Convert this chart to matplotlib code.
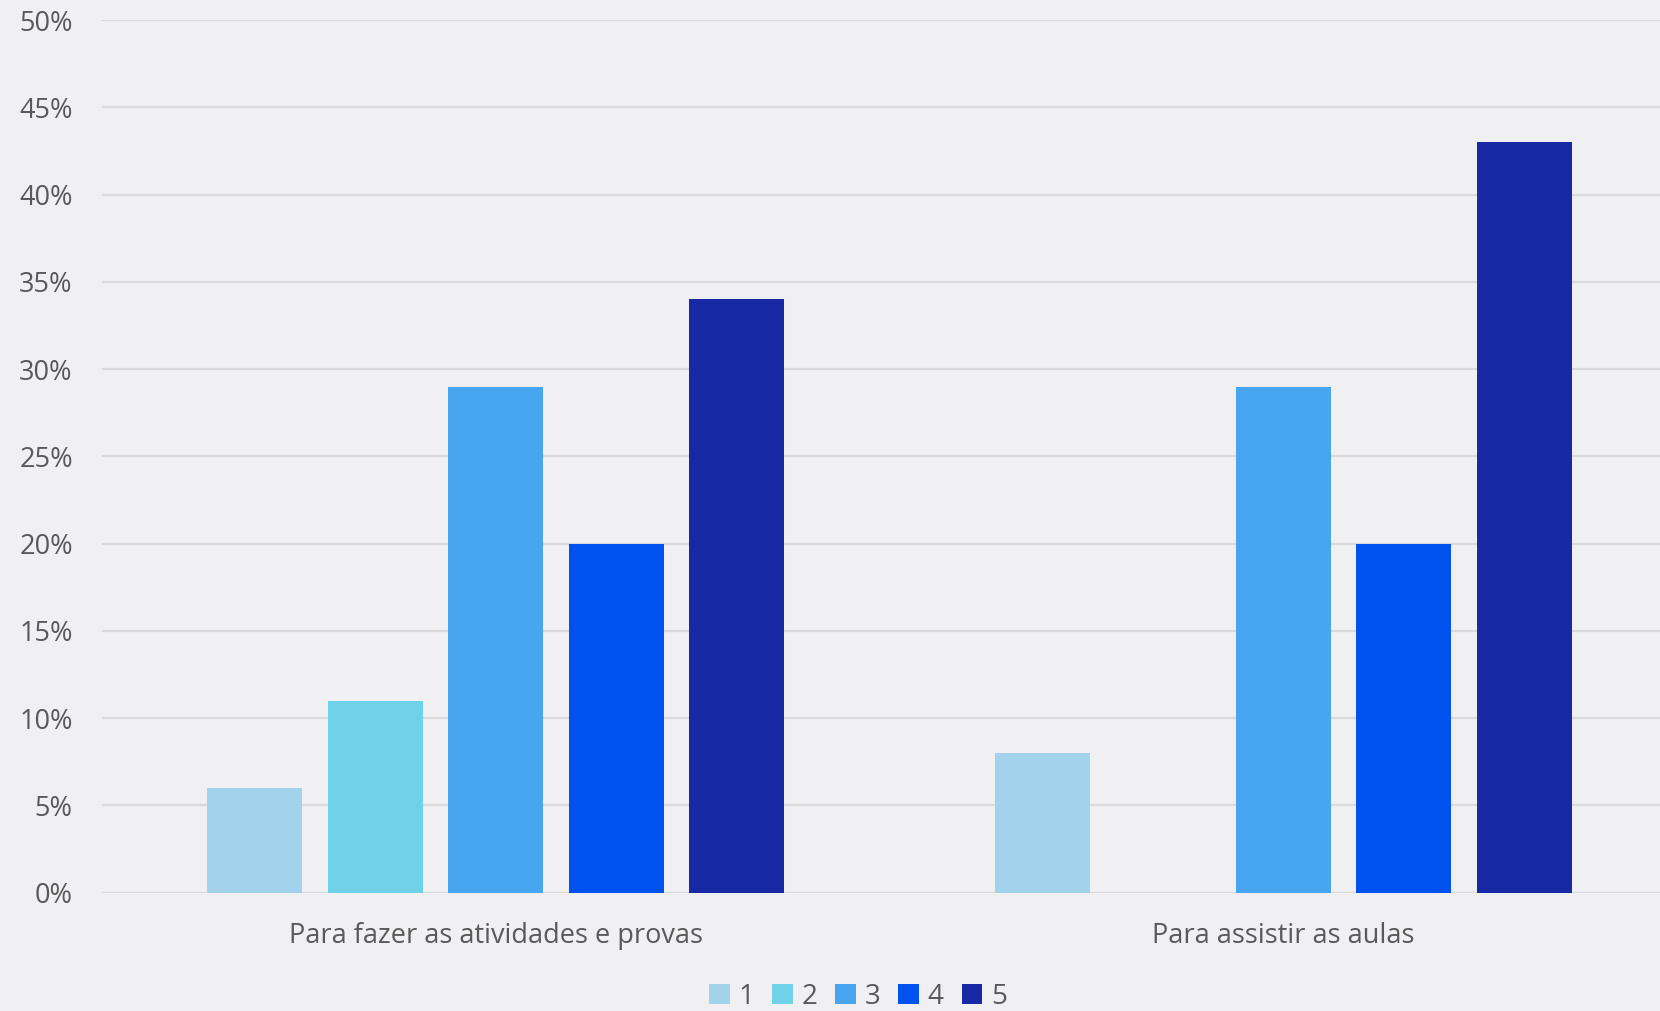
import matplotlib.pyplot as plt
import numpy as np
from matplotlib.ticker import PercentFormatter

categories = ['Para fazer as atividades e provas', 'Para assistir as aulas']
series = ['1', '2', '3', '4', '5']
values = [
    [6, 8],
    [11, 0],
    [29, 29],
    [20, 20],
    [34, 43],
]
colors = ['#a3d2ec', '#6fd2e8', '#48a6f0', '#0052f0', '#1829a6']

plt.rcParams['font.family'] = ['Open Sans', 'DejaVu Sans']
bg = '#f0eff2'
txt = '#595959'

fig = plt.figure(figsize=(16.6, 10.11), dpi=100, facecolor=bg)
ax = fig.add_axes([0.0614, 0.117, 0.9488, 0.863], facecolor=bg)

x = np.arange(len(categories))
slot = 0.153
width = 0.121
for i, (s, v) in enumerate(zip(series, values)):
    ax.bar(x + (i - 2) * slot, v, width, color=colors[i], label=s, zorder=3)

ax.set_xlim(-0.5, 1.5)
ax.set_ylim(0, 50)
ax.set_yticks(np.arange(0, 51, 5))
ax.yaxis.set_major_formatter(PercentFormatter(decimals=0))
ax.set_xticks(x)
ax.set_xticklabels(categories)
ax.grid(axis='y', color='#d9d9d9', linewidth=1.6, zorder=0)
for sp in ax.spines.values():
    sp.set_visible(False)
ax.tick_params(length=0, labelsize=19.5, colors=txt)
ax.tick_params(axis='y', pad=21)
ax.tick_params(axis='x', pad=21)

leg = ax.legend(loc='center', bbox_to_anchor=(0.48, -0.119), ncol=5, frameon=False,
                fontsize=20, handlelength=0.75, handleheight=0.75, handletextpad=0.3,
                columnspacing=0.65, labelcolor=txt)

plt.savefig('out.png', dpi=100, facecolor=bg)
